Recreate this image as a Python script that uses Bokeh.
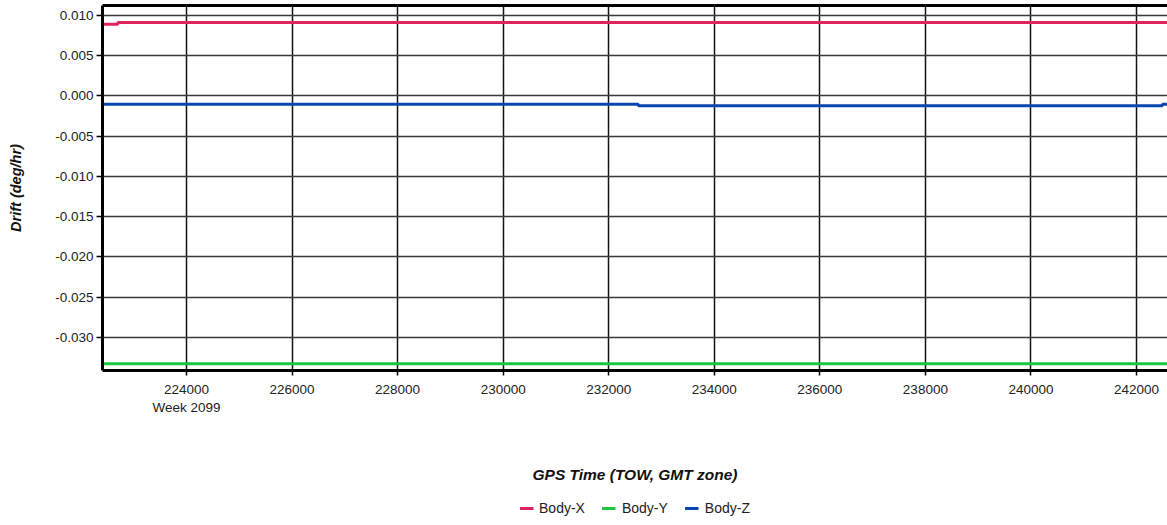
from bokeh.plotting import figure
from bokeh.layouts import column
from bokeh.models import (FixedTicker, LinearAxis, Legend, LegendItem, Range1d,
                          NumeralTickFormatter)
from bokeh.embed import file_html
from bokeh.resources import INLINE

# ---- data ----
x_ticks = [224000, 226000, 228000, 230000, 232000, 234000, 236000, 238000, 240000, 242000]
x_labels = ["224000\nWeek 2099", "226000", "228000", "230000", "232000", "234000",
            "236000", "238000", "240000", "242000"]
y_ticks = [0.010, 0.005, 0.000, -0.005, -0.010, -0.015, -0.020, -0.025, -0.030]

body_x_t = [222400, 222700, 242600]
body_x_v = [0.00890, 0.00913, 0.00913]
body_y_t = [222400, 242600]
body_y_v = [-0.03327, -0.03327]
body_z_t = [222400, 232560, 242490, 242600]
body_z_v = [-0.00103, -0.00120, -0.00103, -0.00103]

series_names = ["Body-X", "Body-Y", "Body-Z"]
series_colors = ["#e0245e", "#1bc640", "#0b45b0"]
series_t = [body_x_t, body_y_t, body_z_t]
series_v = [body_x_v, body_y_v, body_z_v]

FONT = "Liberation Sans"

p = figure(width=1167, height=490, output_backend="svg", toolbar_location=None,
           x_range=Range1d(222409, 242587), y_range=Range1d(-0.0341, 0.01124),
           min_border_left=102, min_border_right=0, min_border_top=5,
           min_border_bottom=120)
p.outline_line_color = None
p.background_fill_color = "white"

# grids
p.xgrid.ticker = FixedTicker(ticks=x_ticks)
p.ygrid.ticker = FixedTicker(ticks=y_ticks)
p.xgrid.grid_line_color = "#111111"
p.xgrid.grid_line_width = 1.5
p.ygrid.grid_line_color = "#3a3a3a"
p.ygrid.grid_line_width = 1.5

# x axis
xa = p.xaxis[0]
xa.ticker = FixedTicker(ticks=x_ticks)
xa.formatter = NumeralTickFormatter(format="0")
xa.major_label_overrides = {t: l for t, l in zip(x_ticks, x_labels)}
xa.axis_line_width = 3
xa.axis_line_color = "black"
xa.major_tick_out = 5
xa.major_tick_in = 0
xa.minor_tick_out = 0
xa.minor_tick_in = 0
xa.major_tick_line_width = 1.5
xa.major_label_standoff = 6
xa.major_label_text_font = FONT
xa.major_label_text_font_size = "13.5px"
xa.major_label_text_color = "#222222"
xa.axis_label = "GPS Time (TOW, GMT zone)"
xa.axis_label_text_font = FONT
xa.axis_label_text_font_style = "bold italic"
xa.axis_label_text_font_size = "15.5px"
xa.axis_label_text_color = "#111111"
xa.axis_label_standoff = 48

# y axis
ya = p.yaxis[0]
ya.ticker = FixedTicker(ticks=y_ticks)
ya.formatter = NumeralTickFormatter(format="0.000")
ya.axis_line_width = 3
ya.axis_line_color = "black"
ya.major_tick_out = 6
ya.major_tick_in = 0
ya.minor_tick_out = 0
ya.minor_tick_in = 0
ya.major_tick_line_width = 1.5
ya.major_label_standoff = 3
ya.major_label_text_font = FONT
ya.major_label_text_font_size = "13.5px"
ya.major_label_text_color = "#222222"
ya.axis_label = "Drift (deg/hr)"
ya.axis_label_text_font = FONT
ya.axis_label_text_font_style = "bold italic"
ya.axis_label_text_font_size = "14.5px"
ya.axis_label_text_color = "#111111"
ya.axis_label_standoff = 28

# top border
top = LinearAxis(ticker=FixedTicker(ticks=[]), axis_line_width=3, axis_line_color="black",
                 major_tick_out=0, major_tick_in=0, minor_tick_out=0, minor_tick_in=0,
                 major_label_text_font_size="0px", major_label_standoff=0)
p.add_layout(top, "above")

# series
for t, v, c in zip(series_t, series_v, series_colors):
    p.step(t, v, mode="after", line_color=c, line_width=3)

# legend strip (separate figure below)
lg = figure(width=1167, height=35, output_backend="svg", toolbar_location=None,
            x_range=Range1d(0, 1), y_range=Range1d(0, 1),
            min_border_left=86, min_border_right=0, min_border_top=0, min_border_bottom=0)
lg.axis.visible = False
lg.grid.visible = False
lg.outline_line_color = None
items = []
for n, t, v, c in zip(series_names, series_t, series_v, series_colors):
    r = lg.line(t, v, line_color=c, line_width=3)
    items.append(LegendItem(label=n, renderers=[r]))
legend = Legend(items=items, orientation="horizontal", location="center",
                border_line_color=None, background_fill_alpha=0,
                glyph_width=14, glyph_height=12, label_standoff=6, spacing=17,
                label_text_font=FONT, label_text_font_size="14px", label_text_color="#222222",
                margin=0, padding=0)
lg.add_layout(legend, "center")

layout = column(p, lg, spacing=0)
open("out.html", "w").write(file_html(layout, INLINE))
